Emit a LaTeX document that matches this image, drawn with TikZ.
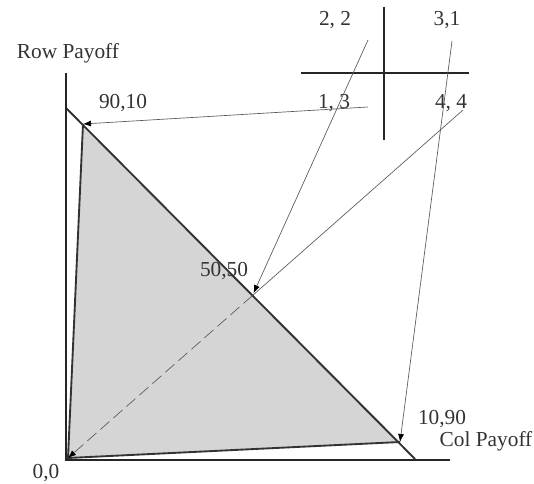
\documentclass[tikz,border=0pt]{standalone}
\usepackage{fontspec}
\setmainfont{Liberation Serif}
\usetikzlibrary{arrows.meta}

\begin{document}
\begin{tikzpicture}[x=0.75pt,y=-0.75pt,
        axis/.style={line width=2pt,black!85},
        edge/.style={line width=1.4pt,black!80},
        move/.style={line width=0.5pt,black!65,-{Latex[length=6pt,width=4.5pt,color=black]}},
        lbl/.style={inner sep=0pt,text=black!80,font=\fontsize{16}{18}\selectfont}]
    \useasboundingbox (0,0) rectangle (534,484);

    % Axes and payoff points
    \coordinate (ytop) at (66,73);
    \coordinate (c) at (66,460);
    \coordinate (xend) at (450,460);
    \coordinate (dtop) at (66,108);
    \coordinate (dbot) at (415,459);
    \coordinate (o) at (68,458);
    \coordinate (p9010) at (83,124);
    \coordinate (p1090) at (400,442);

    % Start points beside the game matrix
    \coordinate (s22) at (368,40);
    \coordinate (s31) at (452,41);
    \coordinate (s13) at (368,107);
    \coordinate (s44) at (463,110);
    \coordinate (m) at (intersection of s44--o and dtop--dbot);

    % Feasible set
    \fill[gray!33] (o) -- (p9010) -- (p1090) -- cycle;
    \draw[edge] (p1090) -- (o) -- (p9010);
    \draw[edge] (dtop) -- (dbot);
    \draw[axis] (ytop) -- (c) -- (xend);

    % Labels
    \node[lbl] (rowlbl) at (68,53) {Row Payoff};
    \node[lbl] (collbl) at (486,441) {Col Payoff};
    \node[lbl] (l00) at (46,473) {0,0};
    \node[lbl] (l9010) at (123,103) {90,10};
    \node[lbl] (l1090) at (442,419) {10,90};
    \node[lbl] (l5050) at (224,271) {50,50};

    % Game matrix
    \draw[axis] (384,7) -- (384,140);
    \draw[axis] (301,73) -- (469,73);
    \node[lbl] (e22) at (335,20) {2, 2};
    \node[lbl] (e31) at (447,20) {3,1};
    \node[lbl] (e13) at (334,103) {1, 3};
    \node[lbl] (e44) at (451,103) {4, 4};

    % Outcomes
    \draw[move] (s13) -- (p9010);
    \draw[move,shorten >=2pt] (s22) -- (m);
    \draw[move] (s31) -- (p1090);
    \draw[line width=0.5pt,black!65] (s44) -- (m);
    \draw[move,dash pattern=on 9pt off 4pt] (m) -- (o);
\end{tikzpicture}
\end{document}
